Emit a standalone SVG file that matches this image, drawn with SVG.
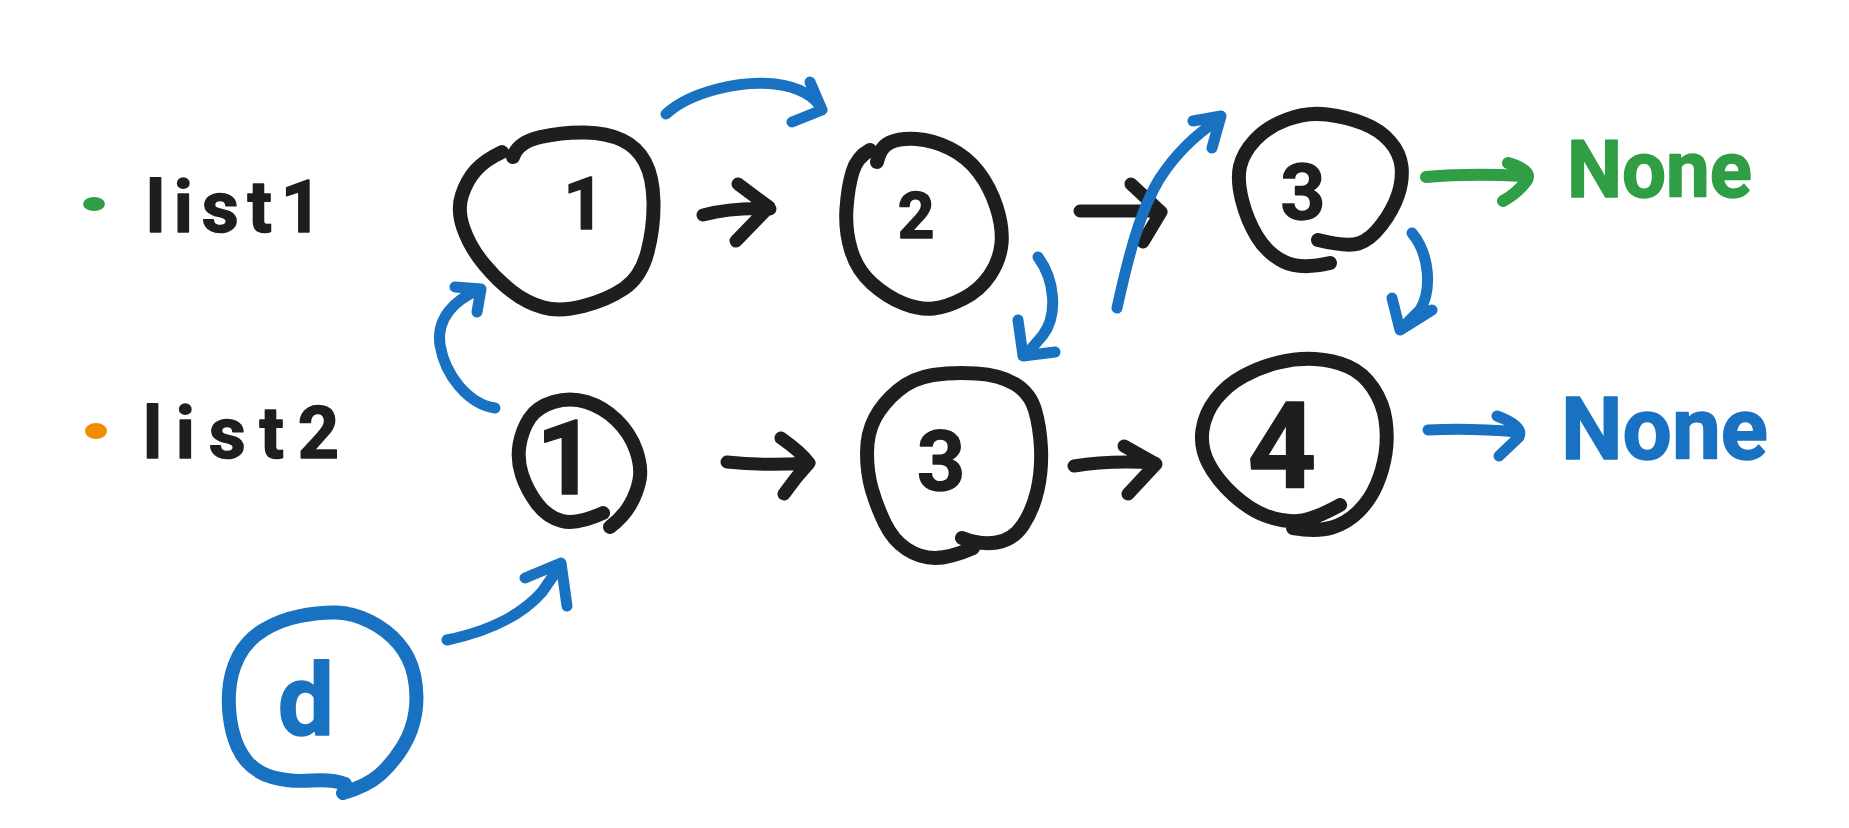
<svg xmlns="http://www.w3.org/2000/svg" width="1849" height="828" viewBox="0 0 1849 828">
<style>
  .bg{fill:#ffffff}
  .ink{fill:none;stroke:#1e1e1e;stroke-width:14;stroke-linecap:round;stroke-linejoin:round}
  .bink{fill:none;stroke:#1971c2;stroke-width:14;stroke-linecap:round;stroke-linejoin:round}
  .arr{fill:none;stroke:#1e1e1e;stroke-width:13;stroke-linecap:round;stroke-linejoin:round}
  .barr{fill:none;stroke:#1971c2;stroke-width:11;stroke-linecap:round;stroke-linejoin:round}
  .garr{fill:none;stroke:#2f9e44;stroke-width:12;stroke-linecap:round;stroke-linejoin:round}
  .t{font-family:Roboto,"Noto Sans","Liberation Sans",sans-serif;font-weight:700;stroke-linejoin:round;stroke-linecap:round}
  .tk{fill:#1e1e1e;stroke:#1e1e1e;stroke-width:1.5}
  .tb{fill:#1971c2;stroke:#1971c2;stroke-width:1.5}
  .tg{fill:#2f9e44;stroke:#2f9e44;stroke-width:1.5}
</style>
<rect class="bg" x="0" y="0" width="1849" height="828"/>

<g id="label-list1">
  <ellipse cx="94" cy="204" rx="11" ry="7" fill="#2f9e44"/>
  <text class="t tk" x="146" y="232" font-size="72" textLength="176" lengthAdjust="spacing">list1</text>
</g>
<g id="label-list2">
  <ellipse cx="96" cy="431" rx="11" ry="8" fill="#f08c00"/>
  <text class="t tk" x="143" y="458" font-size="72" textLength="196" lengthAdjust="spacing">list2</text>
</g>

<g id="node-list1-1">
  <path class="ink" d="M513,157 Q518,142 540.5,137 Q563,132 585,132.5 Q607,133 622,140 Q637,147 645,162 Q653,177 653.5,202 Q654,227 647.5,252 Q641,277 624,288.5 Q607,300 583.5,306 Q560,312 543.5,307.5 Q527,303 512,291.5 Q497,280 483.5,263.5 Q470,247 463.5,228.5 Q457,210 462,195 Q467,180 476,170 Q485,160 502,152"/>
  <text class="t tk" x="584" y="229" font-size="72" text-anchor="middle">1</text>
</g>
<g id="node-list1-2">
  <path class="ink" d="M877,162 Q880,147 890,142.5 Q900,138 916.5,139 Q933,140 950,148.5 Q967,157 978.5,172 Q990,187 996.5,207 Q1003,227 1001.5,243.5 Q1000,260 990,275 Q980,290 963.5,298.5 Q947,307 933.5,308.5 Q920,310 903.5,303.5 Q887,297 872,283.5 Q857,270 851,250 Q845,230 846.5,208.5 Q848,187 852.5,172 Q857,157 870,150"/>
  <text class="t tk" x="916" y="238" font-size="64" text-anchor="middle">2</text>
</g>
<g id="node-list1-3">
  <path class="ink" d="M1318,240 Q1347,247 1358.5,243.5 Q1370,240 1381.5,225 Q1393,210 1398,195 Q1403,180 1401.5,166.5 Q1400,153 1390,141.5 Q1380,130 1363.5,123.5 Q1347,117 1327,114.5 Q1307,112 1287,119.5 Q1267,127 1255,140 Q1243,153 1240,166.5 Q1237,180 1242,200 Q1247,220 1257,236.5 Q1267,253 1283.5,261.5 Q1300,270 1330,263"/>
  <text class="t tk" x="1303" y="219" font-size="78" text-anchor="middle">3</text>
</g>
<g id="node-list2-1">
  <path class="ink" d="M603,513 Q577,525 562,521 Q547,517 537,503.5 Q527,490 522,475 Q517,460 519.5,445 Q522,430 529.5,418.5 Q537,407 553.5,402 Q570,397 586.5,402 Q603,407 616.5,420 Q630,433 636,450 Q642,467 639.5,480 Q637,493 630,505 Q623,517 610,527"/>
  <text class="t tk" x="566" y="494" font-size="104" text-anchor="middle">1</text>
</g>
<g id="node-list2-3">
  <path class="ink" d="M962,538 Q980,545 996.5,542.5 Q1013,540 1023,525 Q1033,510 1037.5,490 Q1042,470 1041,448.5 Q1040,427 1035,410 Q1030,393 1015,384 Q1000,375 976.5,373.5 Q953,372 933,375 Q913,378 898,390.5 Q883,403 875,418 Q867,433 867,453 Q867,473 872,490 Q877,507 885,523.5 Q893,540 906.5,549 Q920,558 935,558 Q950,558 973,548"/>
  <text class="t tk" x="941" y="490" font-size="84" text-anchor="middle">3</text>
</g>
<g id="node-list2-4">
  <path class="ink" d="M1340,505 Q1313,520 1298,521 Q1283,522 1266.5,516 Q1250,510 1233.5,495 Q1217,480 1208.5,463.5 Q1200,447 1202.5,430 Q1205,413 1216,399 Q1227,385 1243.5,376 Q1260,367 1278.5,362.5 Q1297,358 1315,359 Q1333,360 1348,366.5 Q1363,373 1373,388 Q1383,403 1385.5,420 Q1388,437 1385.5,453.5 Q1383,470 1376.5,485 Q1370,500 1358.5,511.5 Q1347,523 1332,527.5 Q1317,532 1293,528"/>
  <text class="t tk" x="1282" y="488" font-size="120" text-anchor="middle">4</text>
</g>
<g id="node-d">
  <path class="bink" d="M343,793 Q367,786 380,774.5 Q393,763 403,746.5 Q413,730 415.5,711.5 Q418,693 414,675 Q410,657 398.5,643.5 Q387,630 370,621.5 Q353,613 336.5,612.5 Q320,612 300,616 Q280,620 263.5,630 Q247,640 238.5,656.5 Q230,673 229,693 Q228,713 232.5,731.5 Q237,750 247,761.5 Q257,773 273.5,777.5 Q290,782 311.5,780.5 Q333,779 345,784"/>
  <text class="t tb" x="306" y="735" font-size="100" text-anchor="middle">d</text>
</g>
<g id="node-none-green">
  <text class="t tg" x="1567" y="197" font-size="80" textLength="185" lengthAdjust="spacingAndGlyphs">None</text>
</g>
<g id="node-none-blue">
  <text class="t tb" x="1561" y="459" font-size="88" textLength="207" lengthAdjust="spacingAndGlyphs">None</text>
</g>

<g id="connectors">
  <path class="arr" d="M703,215 Q735,207 770,209 M738,184 L769,207 L736,241"/>
  <path class="arr" d="M1080,211 L1160,211 M1131,184 L1161,212 L1143,242"/>
  <path class="arr" d="M727,462 Q765,466 808,463 M781,438 Q801,452 809,463 Q795,478 784,494"/>
  <path class="arr" d="M1074,466 Q1110,460 1155,463 M1124,446 L1156,464 L1128,494"/>
  <path class="garr" d="M1426,177 Q1470,173 1524,176 M1508,163 Q1532,170 1527,180 Q1518,193 1503,201"/>
  <path class="barr" d="M1428,430 Q1470,428 1518,432 M1497,416 Q1524,426 1519,437 L1499,456"/>
  <path class="barr" d="M666,114 C690,92 740,80 775,84 C800,87 815,97 821,108 M810,82 L822,110 L792,122"/>
  <path class="barr" d="M495,408 C468,404 445,375 440,345 C436,318 455,300 478,290 M455,287 L481,289 L477,312"/>
  <path class="barr" d="M447,640 C485,632 520,617 542,592 L560,566 M525,578 L561,563 L567,606"/>
  <path class="barr" d="M1038,257 C1055,280 1058,315 1043,335 L1025,356 M1018,320 L1023,356 L1055,352"/>
  <path class="barr" d="M1117,308 C1128,258 1140,210 1160,178 C1175,155 1195,135 1218,120 M1193,121 L1221,116 L1212,148"/>
  <path class="barr" d="M1412,233 C1430,255 1432,290 1420,310 L1401,329 M1392,298 L1400,330 L1432,310"/>
</g>
</svg>
